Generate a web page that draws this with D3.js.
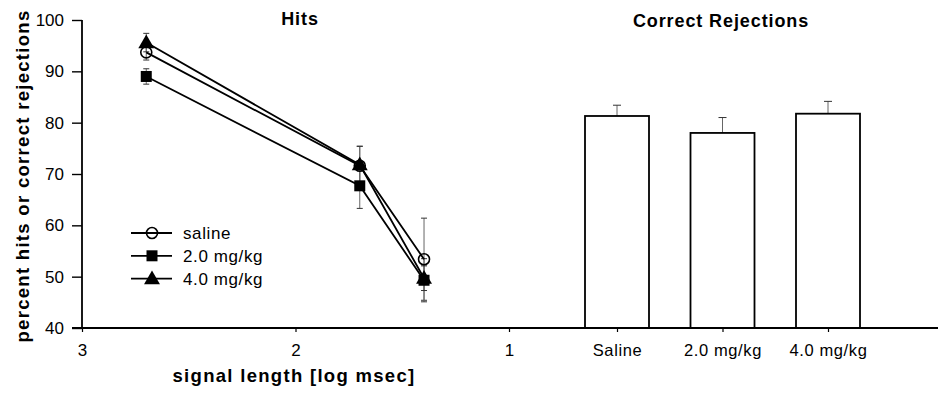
<!DOCTYPE html>
<html>
<head>
<meta charset="utf-8">
<script src="https://cdn.jsdelivr.net/npm/d3@7"></script>
<style>
  body { margin: 0; background: #fff; }
  svg { display: block; font-family: "Liberation Sans", Arial, sans-serif; }
</style>
</head>
<body>
<div id="chart"></div>
<script>
// signal lengths (log msec) for the hits panel
const signalLog = [2.699, 1.699, 1.398];
const seriesNames = ['saline', '2.0 mg/kg', '4.0 mg/kg'];
const salineHits = [93.7, 71.6, 53.4];
const salineErr = [1.5, 3.8, 8.0];
const mg2Hits = [89.0, 67.7, 49.3];
const mg2Err = [1.5, 4.4, 4.2];
const mg4Hits = [95.6, 71.8, 49.7];
const mg4Err = [1.8, 3.6, 2.4];
// correct rejections panel
const rejCategories = ['Saline', '2.0 mg/kg', '4.0 mg/kg'];
const rejValues = [81.3, 78.0, 81.75];
const rejErr = [2.1, 3.0, 2.4];
const yTicks = [40, 50, 60, 70, 80, 90, 100];
const xTicks = [3, 2, 1];

const width = 938, height = 397;

const svg = d3.select('#chart').append('svg')
  .attr('width', width)
  .attr('height', height);

const x = d3.scaleLinear().domain([3, -1]).range([82, 936]);
const y = d3.scaleLinear().domain([40, 100]).range([328, 20]);
const xBar = d3.scalePoint().domain(rejCategories).range([617, 828]);
const barW = 64;

const series = [
  { name: seriesNames[0], vals: salineHits, err: salineErr, shape: 'circle' },
  { name: seriesNames[1], vals: mg2Hits, err: mg2Err, shape: 'square' },
  { name: seriesNames[2], vals: mg4Hits, err: mg4Err, shape: 'triangle' }
];

// draws one marker at (cx, cy)
function marker(g, shape, cx, cy) {
  if (shape === 'circle') {
    g.append('circle').attr('cx', cx).attr('cy', cy).attr('r', 5.5)
      .attr('fill', 'none').attr('stroke', '#000').attr('stroke-width', 1.6);
  } else {
    const sym = shape === 'square' ? d3.symbolSquare : d3.symbolTriangle;
    const size = shape === 'square' ? 121 : 110;
    g.append('path')
      .attr('d', d3.symbol().type(sym).size(size)())
      .attr('transform', 'translate(' + cx + ',' + (shape === 'triangle' ? cy + 1 : cy) + ')')
      .attr('fill', '#000');
  }
}

// error bars (grey, thin)
const errG = svg.append('g').attr('stroke', '#666').attr('stroke-width', 1);
series.forEach(function (s) {
  s.vals.forEach(function (v, i) {
    const cx = x(signalLog[i]);
    errG.append('line').attr('x1', cx).attr('x2', cx)
      .attr('y1', y(v - s.err[i])).attr('y2', y(v + s.err[i]));
    [v - s.err[i], v + s.err[i]].forEach(function (e) {
      errG.append('line').attr('x1', cx - 3).attr('x2', cx + 3)
        .attr('y1', y(e)).attr('y2', y(e)).attr('stroke', '#333');
    });
  });
});

// lines
const line = d3.line()
  .x(function (d, i) { return x(signalLog[i]); })
  .y(function (d) { return y(d); });

series.forEach(function (s) {
  svg.append('path')
    .datum(s.vals)
    .attr('d', line)
    .attr('fill', 'none')
    .attr('stroke', '#000')
    .attr('stroke-width', 1.8);
});

// markers
const markG = svg.append('g');
series.forEach(function (s) {
  s.vals.forEach(function (v, i) {
    marker(markG, s.shape, x(signalLog[i]), y(v));
  });
});

// bars with upper error whiskers
const barG = svg.append('g');
rejCategories.forEach(function (c, i) {
  const cx = xBar(c);
  barG.append('line').attr('x1', cx).attr('x2', cx)
    .attr('y1', y(rejValues[i])).attr('y2', y(rejValues[i] + rejErr[i]))
    .attr('stroke', '#666').attr('stroke-width', 1);
  barG.append('line').attr('x1', cx - 4).attr('x2', cx + 4)
    .attr('y1', y(rejValues[i] + rejErr[i])).attr('y2', y(rejValues[i] + rejErr[i]))
    .attr('stroke', '#333').attr('stroke-width', 1);
  barG.append('rect')
    .attr('x', cx - barW / 2)
    .attr('y', y(rejValues[i]))
    .attr('width', barW)
    .attr('height', y(40) - y(rejValues[i]))
    .attr('fill', '#fff')
    .attr('stroke', '#000')
    .attr('stroke-width', 1.8);
});

// y axis
const yAxis = svg.append('g')
  .attr('transform', 'translate(82,0)')
  .call(d3.axisLeft(y).tickValues(yTicks).tickSize(10).tickPadding(8).tickFormat(d3.format('d')));
yAxis.select('.domain').attr('stroke-width', 1.8).attr('d', 'M0,' + y(100) + 'V' + y(40));
yAxis.selectAll('.tick line').attr('stroke-width', 1.4);
yAxis.selectAll('text').attr('font-size', 17).attr('font-family', '"Liberation Sans", Arial, sans-serif').attr('fill', '#000');

// x axis (log msec)
const xAxis = svg.append('g')
  .attr('transform', 'translate(0,' + y(40) + ')')
  .call(d3.axisBottom(x).tickValues(xTicks).tickSize(4).tickPadding(12).tickFormat(d3.format('d')));
xAxis.select('.domain').attr('stroke-width', 1.8).attr('d', 'M72,0H938');
xAxis.selectAll('.tick line').attr('stroke-width', 1.2);
xAxis.selectAll('text').attr('font-size', 17).attr('font-family', '"Liberation Sans", Arial, sans-serif').attr('fill', '#000');

// category axis under the bars
const cAxis = svg.append('g')
  .attr('transform', 'translate(0,' + y(40) + ')')
  .call(d3.axisBottom(xBar).tickSize(4).tickPadding(12));
cAxis.select('.domain').remove();
cAxis.selectAll('.tick line').attr('stroke-width', 1.2);
cAxis.selectAll('text').attr('font-size', 16.5).attr('letter-spacing', 0.6)
  .attr('font-family', '"Liberation Sans", Arial, sans-serif').attr('fill', '#000');

// titles
svg.append('text').attr('x', 300).attr('y', 25).attr('text-anchor', 'middle')
  .attr('font-size', 18).attr('font-weight', 'bold').attr('letter-spacing', 0.9).text('Hits');
svg.append('text').attr('x', 721).attr('y', 27).attr('text-anchor', 'middle')
  .attr('font-size', 18).attr('font-weight', 'bold').attr('letter-spacing', 0.9).text('Correct Rejections');

// axis labels
svg.append('text').attr('x', 294).attr('y', 382).attr('text-anchor', 'middle')
  .attr('font-size', 18.5).attr('font-weight', 'bold').attr('letter-spacing', 1.3)
  .text('signal length [log msec]');
svg.append('text')
  .attr('transform', 'translate(29,176) rotate(-90)')
  .attr('text-anchor', 'middle')
  .attr('font-size', 18.5).attr('font-weight', 'bold').attr('letter-spacing', 1.3)
  .text('percent hits or correct rejections');

// legend
const legend = svg.append('g');
series.forEach(function (s, i) {
  const ly = 233 + i * 22.8;
  legend.append('line').attr('x1', 131).attr('x2', 172).attr('y1', ly).attr('y2', ly)
    .attr('stroke', '#000').attr('stroke-width', 1.8);
  marker(legend, s.shape, 152, ly);
  legend.append('text').attr('x', 183).attr('y', ly + 6)
    .attr('font-size', 17).attr('letter-spacing', 0.6).text(s.name);
});
</script>
</body>
</html>
